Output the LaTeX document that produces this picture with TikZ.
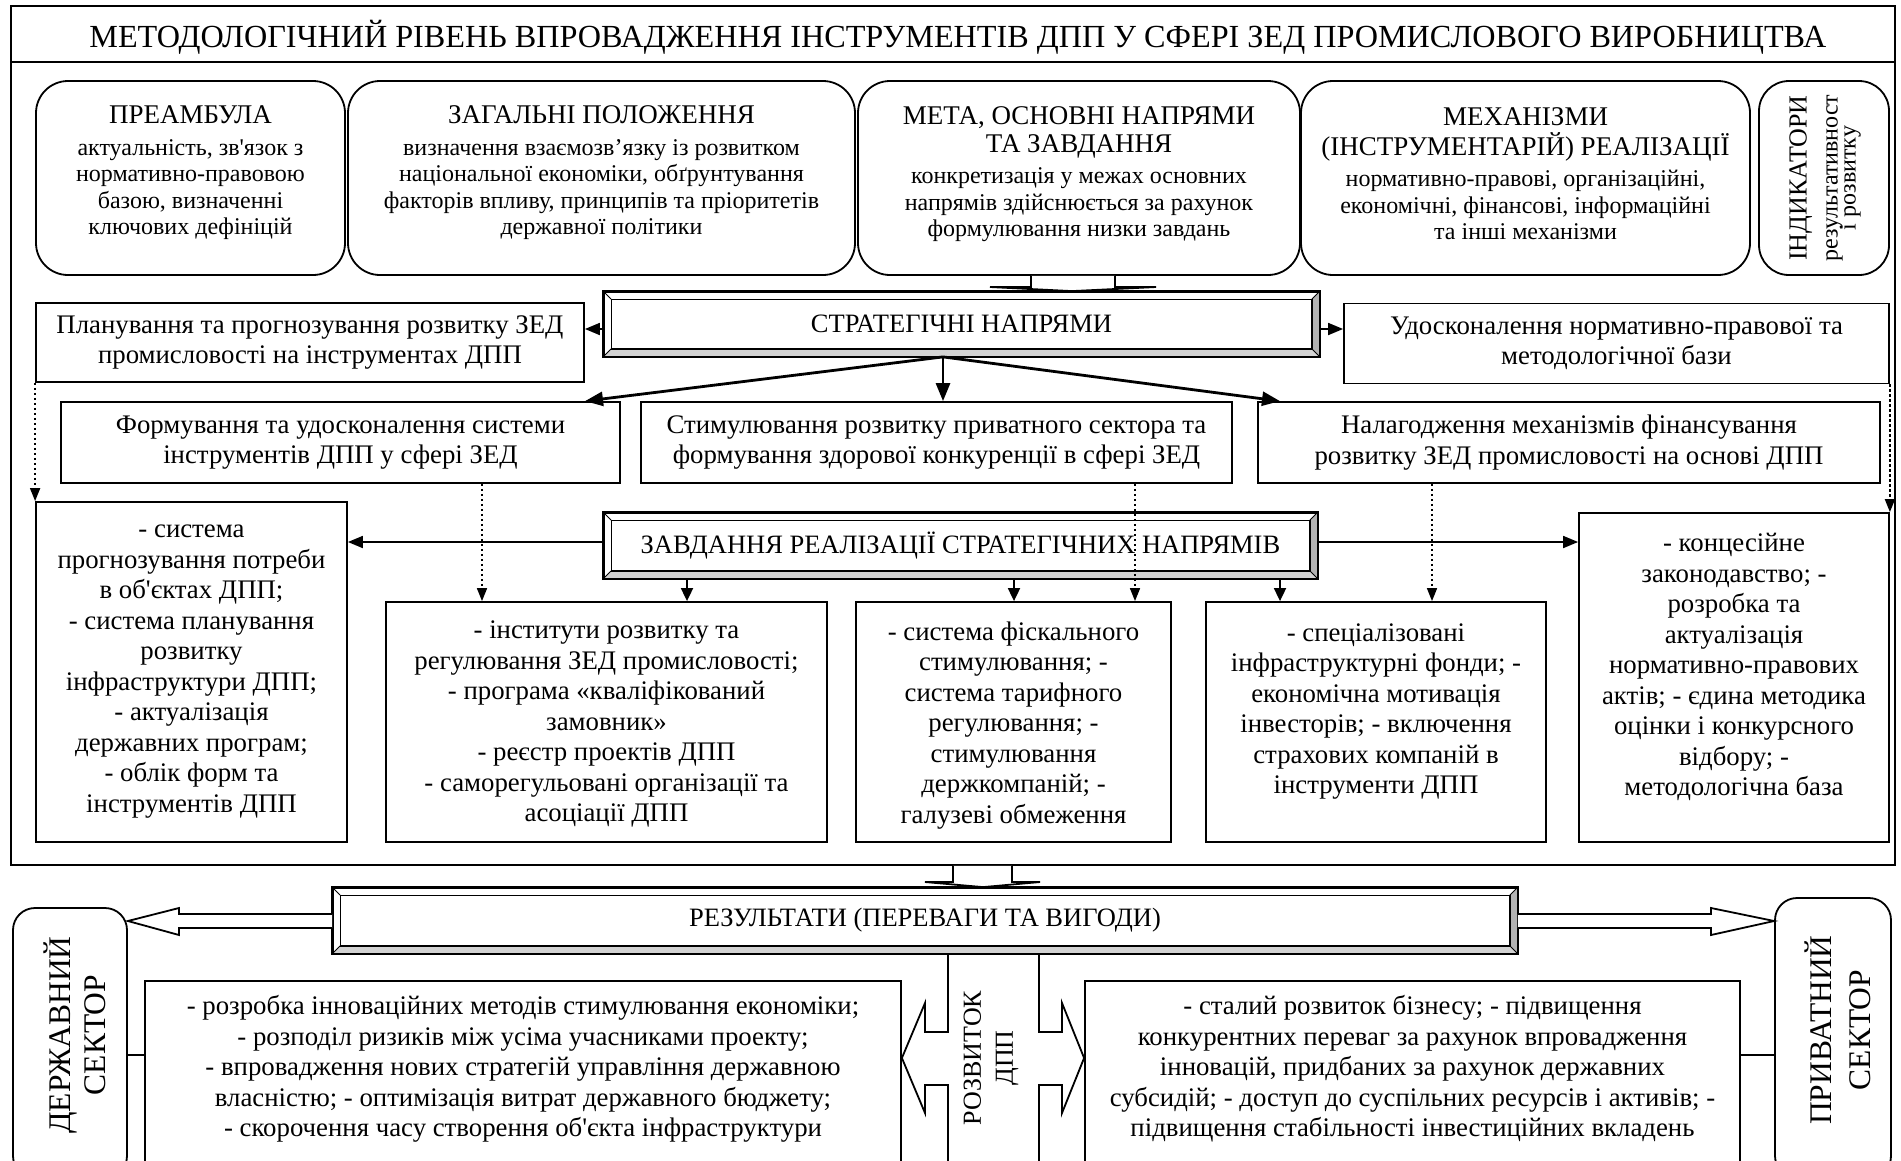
\documentclass[tikz,border=0pt]{standalone}
\usepackage{fontspec}
\setmainfont{Liberation Serif}[Ligatures=TeXOff]
\usetikzlibrary{arrows.meta,calc}
\newcommand\fsz[2]{\fontsize{#1}{#2}\selectfont}
\newcommand\tightls{\lineskiplimit-100pt\relax}
\newcommand\bevelfacets[1]{%
  \fill[gray!35] (#1.south west) -- (#1.south east) -- ([shift={(-8pt,8pt)}]#1.south east) -- ([shift={(8pt,8pt)}]#1.south west) -- cycle;
  \fill[gray!60] (#1.south east) -- (#1.north east) -- ([shift={(-8pt,-8pt)}]#1.north east) -- ([shift={(-8pt,8pt)}]#1.south east) -- cycle;
  \draw[line width=1.2pt] ([shift={(8pt,-8pt)}]#1.north west) rectangle ([shift={(-8pt,8pt)}]#1.south east);
  \draw[line width=1pt] (#1.north west) -- ++(8pt,-8pt) (#1.north east) -- ++(-8pt,-8pt) (#1.south west) -- ++(8pt,8pt) (#1.south east) -- ++(-8pt,8pt);
  \draw[line width=1.8pt] (#1.north west) rectangle (#1.south east);
}
\tikzset{
  bx/.style={draw, line width=1.8pt, inner sep=0pt, fill=white},
  rbx/.style={bx, rounded corners=32pt, minimum height=194pt},
  txt/.style={align=center, inner sep=0pt, font=\fsz{26.8}{30.5}},
  toptxt/.style={align=center, inner sep=0pt, font=\fsz{24}{26.5}},
  bevelbox/.style={draw, line width=1.8pt, fill=white, inner sep=0pt, font=\fsz{26.5}{30}},
  rottxt/.style={rotate=90, align=center, inner sep=0pt},
  ln/.style={line width=1.8pt},
  arr/.style={line width=1.8pt, -{Triangle[length=15pt,width=12pt]}},
  downarr/.style={line width=1.8pt, -{Triangle[length=13pt,width=12pt]}},
  bigarr/.style={line width=2.8pt, -{Triangle[length=18pt,width=14pt]}},
  dotarr/.style={line width=1.6pt, dash pattern=on 2.5pt off 2.5pt, -{Triangle[length=13pt,width=10pt]}},
}
\begin{document}
\begin{tikzpicture}[x=1pt,y=-1pt]
\useasboundingbox (0,0) rectangle (1901,1160);
\fill[white] (0,0) rectangle (1901,1160);

% ---------- outer frame and title
\node[draw, line width=1.8pt, inner sep=0pt, minimum width=1884pt, minimum height=859pt] (frame) at (953,435.5) {};
\draw[ln] (frame.west |- 0,62) -- (frame.east |- 0,62);
\node[inner sep=0pt, font=\fsz{32.2}{36}] (title) at (958,37) {МЕТОДОЛОГІЧНИЙ РІВЕНЬ ВПРОВАДЖЕННЯ ІНСТРУМЕНТІВ ДПП У СФЕРІ ЗЕД ПРОМИСЛОВОГО ВИРОБНИЦТВА};

% ---------- top rounded boxes
\node[rbx, minimum width=309pt] (pre) at (190.5,178) {};
\node[toptxt] (pre-t) at (190.5,173) {{\fsz{27}{30}ПРЕАМБУЛА}\\[5pt]актуальність, зв'язок з\\нормативно-правовою\\базою, визначенні\\ключових дефініцій};
\node[rbx, minimum width=507pt] (zag) at (601.5,178) {};
\node[toptxt] (zag-t) at (601.5,173) {{\fsz{27}{30}ЗАГАЛЬНІ ПОЛОЖЕННЯ}\\[5pt]визначення взаємозв’язку із розвитком\\національної економіки, обґрунтування\\факторів впливу, принципів та пріоритетів\\державної політики};
\node[rbx, minimum width=442pt] (meta) at (1079,178) {};
\node[toptxt] (meta-t) at (1079,174) {{\fsz{27}{30}МЕТА, ОСНОВНІ НАПРЯМИ}\\[1.5pt]{\fsz{27}{30}ТА ЗАВДАННЯ}\\[5pt]конкретизація у межах основних\\напрямів здійснюється за рахунок\\формулювання низки завдань};
\node[rbx, minimum width=449pt] (mech) at (1525.5,178) {};
\node[toptxt] (mech-t) at (1525.5,174) {{\fsz{27}{30}МЕХАНІЗМИ}\\[3pt]{\fsz{27}{30}(ІНСТРУМЕНТАРІЙ) РЕАЛІЗАЦІЇ}\\[5pt]нормативно-правові, організаційні,\\економічні, фінансові, інформаційні\\та інші механізми};
\node[rbx, rounded corners=30pt, minimum width=130pt] (ind) at (1824,178) {};
\node[rottxt, font=\fsz{24}{18}\tightls] (ind-t) at (1825,178) {{\fsz{26}{18}ІНДИКАТОРИ}\\[13pt]результативност\\і розвитку};

% ---------- strategic directions
\node[bevelbox, minimum width=715pt, minimum height=64pt] (strat) at (961.5,324) {СТРАТЕГІЧНІ НАПРЯМИ};
\bevelfacets{strat}
\node[bx, txt, minimum width=548pt, minimum height=79pt] (plan) at (310,342.5) {Планування та прогнозування розвитку ЗЕД\\промисловості на інструментах ДПП};
\node[bx, txt, minimum width=545pt, minimum height=80pt] (udos) at (1616.5,343.5) {Удосконалення нормативно-правової та\\методологічної бази};
\node[bx, txt, minimum width=559pt, minimum height=81pt] (form) at (340.5,442.5) {Формування та удосконалення системи\\інструментів ДПП у сфері ЗЕД};
\node[bx, txt, minimum width=591pt, minimum height=81pt] (stim) at (936.5,442.5) {Стимулювання розвитку приватного сектора та\\формування здорової конкуренції в сфері ЗЕД};
\node[bx, txt, minimum width=622pt, minimum height=81pt] (nala) at (1569,442.5) {Налагодження механізмів фінансування\\розвитку ЗЕД промисловості на основі ДПП};

% ---------- tasks
\node[bevelbox, minimum width=713pt, minimum height=65pt] (zavd) at (960.5,545.5) {ЗАВДАННЯ РЕАЛІЗАЦІЇ СТРАТЕГІЧНИХ НАПРЯМІВ};
\bevelfacets{zavd}
\node[bx, minimum width=311pt, minimum height=340pt] (left) at (191.5,672) {};
\node[txt] (left-t) at (191.5,671.5) {- система\\прогнозування потреби\\в об'єктах ДПП;\\- система планування\\розвитку\\інфраструктури ДПП;\\- актуалізація\\державних програм;\\- облік форм та\\інструментів ДПП};
\node[bx, minimum width=441pt, minimum height=240pt] (inst) at (606.5,722) {};
\node[txt] (inst-t) at (606.5,724) {- інститути розвитку та\\регулювання ЗЕД промисловості;\\- програма «кваліфікований\\замовник»\\- реєстр проектів ДПП\\- саморегульовані організації та\\асоціації ДПП};
\node[bx, minimum width=315pt, minimum height=240pt] (fisk) at (1013.5,722) {};
\node[txt] (fisk-t) at (1013.5,725.5) {- система фіскального\\стимулювання; -\\система тарифного\\регулювання; -\\стимулювання\\держкомпаній; -\\галузеві обмеження};
\node[bx, minimum width=340pt, minimum height=240pt] (spec) at (1376,722) {};
\node[txt] (spec-t) at (1376,711.5) {- спеціалізовані\\інфраструктурні фонди; -\\економічна мотивація\\інвесторів; - включення\\страхових компаній в\\інструменти ДПП};
\node[bx, minimum width=310pt, minimum height=329pt] (konc) at (1734,677.5) {};
\node[txt] (konc-t) at (1734,667) {- концесійне\\законодавство; -\\розробка та\\актуалізація\\нормативно-правових\\актів; - єдина методика\\оцінки і конкурсного\\відбору; -\\методологічна база};

% ---------- results
\node[bevelbox, minimum width=1184pt, minimum height=65pt] (res) at (925,920.5) {РЕЗУЛЬТАТИ (ПЕРЕВАГИ ТА ВИГОДИ)};
\bevelfacets{res}
\node[bx, rounded corners=22pt, minimum width=114pt, minimum height=270pt] (derzh) at (70,1043) {};
\node[rottxt, font=\fsz{31.5}{35}] (derzh-t) at (75,1035) {ДЕРЖАВНИЙ\\СЕКТОР};
\node[bx, rounded corners=22pt, minimum width=116pt, minimum height=280pt] (priv) at (1833,1038) {};
\node[rottxt, font=\fsz{31.5}{39}] (priv-t) at (1838,1030) {ПРИВАТНИЙ\\СЕКТОР};
\node[bx, minimum width=756pt, minimum height=209pt] (lowL) at (523,1085.5) {};
\node[txt] (lowL-t) at (523,1069) {- розробка інноваційних методів стимулювання економіки;\\- розподіл ризиків між усіма учасниками проекту;\\- впровадження нових стратегій управління державною\\власністю; - оптимізація витрат державного бюджету;\\- скорочення часу створення об'єкта інфраструктури};
\node[bx, minimum width=655pt, minimum height=209pt] (lowR) at (1412.5,1085.5) {};
\node[txt] (lowR-t) at (1412.5,1069) {- сталий розвиток бізнесу; - підвищення\\конкурентних переваг за рахунок впровадження\\інновацій, придбаних за рахунок державних\\субсидій; - доступ до суспільних ресурсів і активів; -\\підвищення стабільності інвестиційних вкладень};

% ---------- connectors
% block arrow: top boxes -> strategic directions
\draw[ln, fill=white] (1031,0 |- meta.south) -- (1031,287) -- (990,287) -- (1072,0 |- strat.north) -- (1156,287) -- (1115,287) -- (1115,0 |- meta.south);
\draw[arr] (strat.west |- 0,329) -- (plan.east |- 0,329);
\draw[arr] (strat.east |- 0,329) -- (udos.west |- 0,329);
\coordinate (sd) at (943,0 |- strat.south);
\draw[bigarr] (sd) -- (585,0 |- form.north);
\draw[bigarr] (sd) -- (sd |- stim.north);
\draw[bigarr] (sd) -- (1280,0 |- nala.north);
% tasks arrows
\draw[arr] (zavd.west |- 0,542) -- (left.east |- 0,542);
\draw[arr] (zavd.east |- 0,542) -- (konc.west |- 0,542);
\draw[downarr] (687,0 |- zavd.south) -- (687,0 |- inst.north);
\draw[downarr] (1014,0 |- zavd.south) -- (1014,0 |- fisk.north);
\draw[downarr] (1280,0 |- zavd.south) -- (1280,0 |- spec.north);
% dotted links
\draw[dotarr] (plan.south west) -- (left.north west);
\draw[dotarr] (482,0 |- form.south) -- (482,0 |- inst.north);
\draw[dotarr] (1135,0 |- stim.south) -- (1135,0 |- fisk.north);
\draw[dotarr] (1432,0 |- nala.south) -- (1432,0 |- spec.north);
\draw[dotarr] (udos.south east) -- (konc.north east);
% block arrow: frame -> results
\draw[ln, fill=white] (953,0 |- frame.south) -- (953,882) -- (925,882) -- (983,0 |- res.north) -- (1040,882) -- (1012,882) -- (1012,0 |- frame.south);
% wide arrows to sectors
\draw[ln, fill=white] (res.west |- 0,914) -- (179,914) -- (179,908) -- (derzh.east |- 0,921) -- (179,935) -- (179,928) -- (res.west |- 0,928);
\draw[ln, fill=white] (res.east |- 0,914) -- (1711,914) -- (1711,908) -- (priv.west |- 0,921) -- (1711,935) -- (1711,928) -- (res.east |- 0,928);
% development cross arrow
\draw[ln, fill=white] (948,1200) -- (948,1085) -- (925,1085) -- (925,1113) -- (lowL.east |- 0,1058) -- (925,1003) -- (925,1032) -- (948,1032) -- (948,0 |- res.south) -- (1039,0 |- res.south) -- (1039,1032) -- (1062,1032) -- (1062,1003) -- (lowR.west |- 0,1058) -- (1062,1113) -- (1062,1085) -- (1039,1085) -- (1039,1200);
\node[rottxt, font=\fsz{26}{32}] (rozv) at (991,1058) {РОЗВИТОК\\ДПП};
% sector links
\draw[ln] (derzh.east |- 0,1055) -- (lowL.west |- 0,1055);
\draw[ln] (lowR.east |- 0,1055) -- (priv.west |- 0,1055);
\end{tikzpicture}
\end{document}
